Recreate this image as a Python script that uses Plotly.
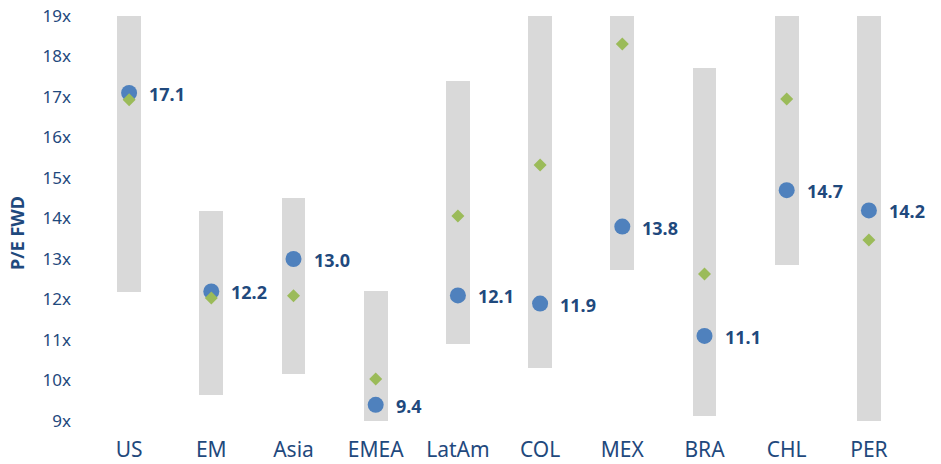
import plotly.graph_objects as go

# Forward P/E ranges by market
markets = ["US", "EM", "Asia", "EMEA", "LatAm", "COL", "MEX", "BRA", "CHL", "PER"]
range_low = [12.19, 9.64, 10.16, 9.0, 10.90, 10.31, 12.73, 9.12, 12.85, 9.0]
range_high = [19.0, 14.19, 14.51, 12.21, 17.40, 19.0, 19.0, 17.72, 19.0, 19.0]
current = [17.1, 12.2, 13.0, 9.4, 12.1, 11.9, 13.8, 11.1, 14.7, 14.2]
average = [16.93, 12.04, 12.09, 10.04, 14.06, 15.32, 18.31, 12.63, 16.95, 13.47]
tick_vals = [9, 10, 11, 12, 13, 14, 15, 16, 17, 18, 19]
tick_text = [f"{v}x" for v in tick_vals]

NAVY = "#1F497D"
FONT = "Noto Sans"

fig = go.Figure()

# min-max range bars
fig.add_trace(go.Bar(
    x=markets,
    base=range_low,
    y=[h - l for h, l in zip(range_high, range_low)],
    width=0.29,
    marker=dict(color="#D9D9D9", line=dict(width=0)),
    hoverinfo="skip",
    showlegend=False,
))

# current multiple
fig.add_trace(go.Scatter(
    x=markets, y=current, mode="markers",
    marker=dict(symbol="circle", size=16, color="#4F81BD"),
    showlegend=False,
))

# historical average
fig.add_trace(go.Scatter(
    x=markets, y=average, mode="markers",
    marker=dict(symbol="diamond", size=10, color="#9BBB59"),
    showlegend=False,
))

# value labels next to the current-multiple dots
for m, v in zip(markets, current):
    fig.add_annotation(
        x=m, y=v, text=f"<b>{v:.1f}</b>", showarrow=False,
        xanchor="left", yanchor="middle", xshift=18, yshift=-1,
        font=dict(family=FONT, size=18, color=NAVY),
    )

# y-axis title
fig.add_annotation(
    xref="paper", yref="paper", x=(17 - 88) / 822, y=(421 - 233) / 405,
    text="<b>P/E FWD</b>", textangle=-90, showarrow=False,
    xanchor="center", yanchor="middle",
    font=dict(family=FONT, size=18, color=NAVY),
)

fig.update_layout(
    width=941, height=464,
    margin=dict(l=88, r=31, t=16, b=43),
    plot_bgcolor="white", paper_bgcolor="white",
    bargap=0,
    xaxis=dict(
        type="category", range=[-0.5, len(markets) - 0.5],
        showgrid=False, zeroline=False, showline=False,
        tickfont=dict(family=FONT, size=21, color=NAVY),
        ticks="", ticklabelstandoff=14, automargin=False,
    ),
    yaxis=dict(
        range=[9, 19], showgrid=False, zeroline=False, showline=False,
        tickvals=tick_vals, ticktext=tick_text,
        tickfont=dict(family=FONT, size=17, color=NAVY),
        ticks="", ticklabelstandoff=16, automargin=False,
    ),
)

fig.write_html("out.html")
